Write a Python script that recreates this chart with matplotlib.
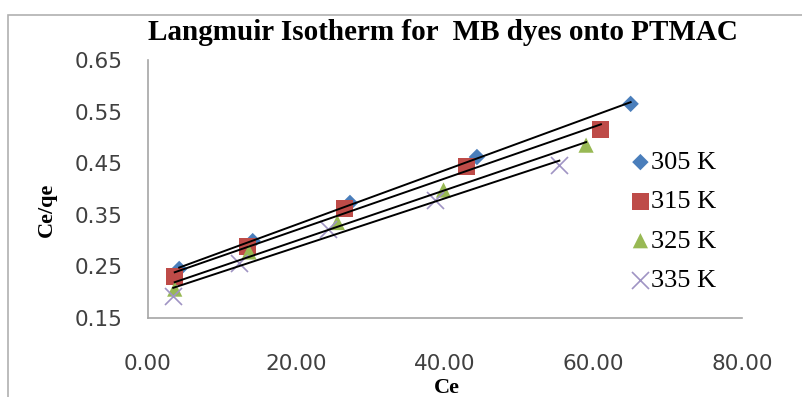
import numpy as np
import matplotlib.pyplot as plt
from matplotlib.patches import Rectangle

# Ce (x) and Ce/qe (y)
series_labels = ['305 K', '315 K', '325 K', '335 K']
ce_305 = [4.2, 14.1, 27.2, 44.3, 65.0]
ceqe_305 = [0.245, 0.299, 0.373, 0.462, 0.565]
ce_315 = [3.6, 13.4, 26.4, 42.9, 61.0]
ceqe_315 = [0.230, 0.288, 0.362, 0.443, 0.516]
ce_325 = [3.6, 13.6, 25.5, 39.8, 59.0]
ceqe_325 = [0.206, 0.278, 0.335, 0.398, 0.485]
ce_335 = [3.4, 12.2, 24.2, 38.6, 55.4]
ceqe_335 = [0.193, 0.257, 0.322, 0.378, 0.446]
x_ticks = [0, 20, 40, 60, 80]
y_ticks = [0.15, 0.25, 0.35, 0.45, 0.55, 0.65]

W, H = 803, 397
fig = plt.figure(figsize=(W / 100, H / 100), dpi=100)
fig.patches.append(Rectangle((8 / W, -0.05), 1.2, (H - 15) / H + 0.05, transform=fig.transFigure,
                             fill=False, edgecolor='#b0b0b0', linewidth=1.2))
ax = fig.add_axes([148 / W, (H - 318) / H, (742 - 148) / W, (318 - 60) / H])

styles = [
    dict(marker='D', color='#4a7ebb', s=70),
    dict(marker='s', color='#be4b48', s=150),
    dict(marker='^', color='#98b954', s=120),
    dict(marker='x', color='#9f94c4', s=150, linewidths=1.2),
]
data = [(ce_305, ceqe_305), (ce_315, ceqe_315), (ce_325, ceqe_325), (ce_335, ceqe_335)]

for (xs, ys), st, lab in zip(data, styles, series_labels):
    ax.scatter(xs, ys, label=lab, zorder=2, edgecolors='none' if st['marker'] != 'x' else None, **st)

# linear trendlines across each series' range
for xs, ys in data:
    xs = np.array(xs)
    k, b = np.polyfit(xs, ys, 1)
    xx = np.array([xs.min(), xs.max()])
    ax.plot(xx, k * xx + b, color='black', linewidth=1.4, zorder=3)

ax.set_xlim(0, 80)
ax.set_ylim(0.15, 0.65)
ax.set_xticks(x_ticks)
ax.set_xticklabels([f'{v:.2f}' for v in x_ticks])
ax.set_yticks(y_ticks)
ax.set_yticklabels([f'{v:.2f}' for v in y_ticks])
ax.tick_params(length=0, labelsize=15.5, labelcolor='#404040')
for lbl in ax.get_xticklabels() + ax.get_yticklabels():
    lbl.set_family('DejaVu Sans')
ax.tick_params(axis='x', pad=26)
ax.tick_params(axis='y', pad=18)
for side in ('top', 'right'):
    ax.spines[side].set_visible(False)
for side in ('left', 'bottom'):
    ax.spines[side].set_color('#a6a6a6')
    ax.spines[side].set_linewidth(1.2)

fig.text(443 / W, 1 - 32 / H, 'Langmuir Isotherm for  MB dyes onto PTMAC', ha='center', va='center',
         family='Liberation Serif', fontweight='bold', fontsize=21)
fig.text(447 / W, 1 - 388 / H, 'Ce', ha='center', va='center', family='Liberation Serif',
         fontweight='bold', fontsize=16)
fig.text(47 / W, 1 - 210 / H, 'Ce/qe', ha='center', va='center', rotation=90,
         family='Liberation Serif', fontweight='bold', fontsize=16)

leg = ax.legend(loc='upper left', bbox_to_anchor=((614 - 148) / (742 - 148), (318 - 140) / (318 - 60)),
                frameon=False, prop={'family': 'Liberation Serif', 'size': 19},
                handletextpad=-0.2, labelspacing=0.6, handlelength=1.2, borderaxespad=0)

fig.savefig('out.png', dpi=100)
